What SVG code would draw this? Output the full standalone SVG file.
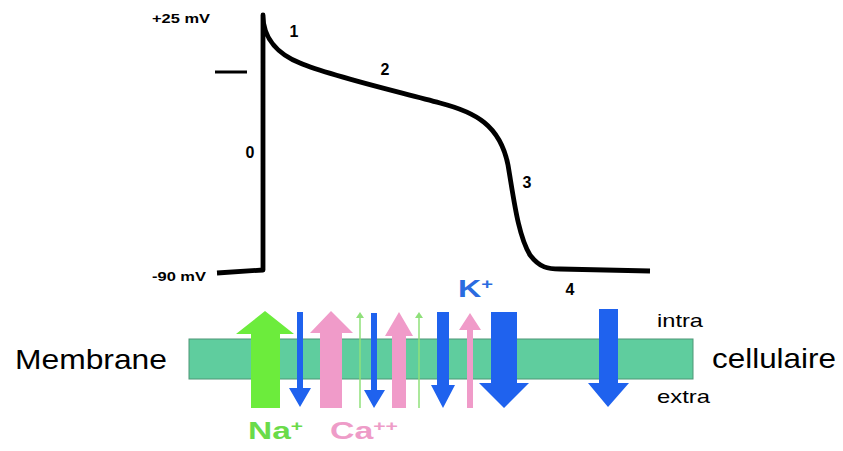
<svg xmlns="http://www.w3.org/2000/svg" width="843" height="451" viewBox="0 0 843 451">
  <style>
    .lbl { font-family: "Liberation Sans", Arial, sans-serif; }
    .b { font-weight: bold; }
    .trace { fill: none; stroke: #000; stroke-width: 4.8; stroke-linejoin: round; stroke-linecap: butt; }
    .na { fill: #6CEC3C; }
    .ca { fill: #F09BC9; }
    .k { fill: #1F62EE; }
    .thin { stroke: #8FE07A; stroke-width: 1.5; fill: none; }
  </style>
  <rect width="843" height="451" fill="#fff"/>

  <!-- action potential trace -->
  <g id="trace">
    <path class="trace" d="M 217,273 L 263,270 L 263,15 C 263,40 280,55 300,63 C 330,76 400,92 440,103 C 475,112 500,125 508,165 C 514,200 518,235 530,255 C 540,268 548,269 560,269 L 650,271"/>
    <line x1="215" y1="72" x2="247" y2="72" stroke="#000" stroke-width="3"/>
  </g>

  <g id="axis-labels" class="lbl b" font-size="13">
    <text x="152" y="23" textLength="58" lengthAdjust="spacingAndGlyphs">+25 mV</text>
    <text x="152" y="281" textLength="54" lengthAdjust="spacingAndGlyphs">-90 mV</text>
  </g>

  <g id="phases" class="lbl b" font-size="16" text-anchor="middle">
    <text x="250" y="158">0</text>
    <text x="294" y="37">1</text>
    <text x="385" y="75">2</text>
    <text x="527" y="188">3</text>
    <text x="570" y="295">4</text>
  </g>

  <!-- membrane -->
  <g id="membrane">
    <rect x="189" y="339" width="504" height="40" fill="#5FCD9E" stroke="#4E9676" stroke-width="1"/>
  </g>

  <!-- ion currents -->
  <g id="currents">
    <!-- Na+ inward -->
    <polygon class="na" points="251,408 251,334 236,334 265,311 294,334 280,334 280,408"/>
    <!-- K+ small outward -->
    <polygon class="k" points="297,312 303,312 303,388 311,388 300,407 289,388 297,388"/>
    <!-- Ca++ -->
    <polygon class="ca" points="320,408 320,333 310,333 331,311 353,333 342,333 342,408"/>
    <!-- faint Na+ -->
    <line class="thin" x1="360" y1="317" x2="360" y2="408"/>
    <polygon fill="#8FE07A" points="356,318 360,312 364,318"/>
    <!-- K+ -->
    <polygon class="k" points="371,313 377,313 377,390 385,390 374,408 364,390 371,390"/>
    <!-- Ca++ -->
    <polygon class="ca" points="392,408 392,336 385,336 399,312 413,336 406,336 406,408"/>
    <!-- faint Na+ -->
    <line class="thin" x1="419" y1="317" x2="419" y2="408"/>
    <polygon fill="#8FE07A" points="415,318 419,312 423,318"/>
    <!-- K+ -->
    <polygon class="k" points="437,312 449,312 449,385 455,385 443,408 431,385 437,385"/>
    <!-- Ca++ thin -->
    <polygon class="ca" points="467,408 467,330 459,330 470,313 481,330 473,330 473,408"/>
    <!-- K+ large -->
    <polygon class="k" points="491,312 517,312 517,383 529,383 504,408 479,383 491,383"/>
    <!-- K+ resting -->
    <polygon class="k" points="599,309 618,309 618,383 629,383 608,407 588,383 599,383"/>
  </g>

  <g id="ion-labels" class="lbl b" font-size="24">
    <text x="458" y="297" fill="#2A6BE0" textLength="35" lengthAdjust="spacingAndGlyphs">K<tspan font-size="15" dy="-8">+</tspan></text>
    <text x="248" y="439" fill="#6ADB4A" textLength="55" lengthAdjust="spacingAndGlyphs">Na<tspan font-size="15" dy="-8">+</tspan></text>
    <text x="330" y="439" fill="#EE9CC8" textLength="68" lengthAdjust="spacingAndGlyphs">Ca<tspan font-size="15" dy="-8">++</tspan></text>
  </g>

  <g id="membrane-labels" class="lbl">
    <text x="15" y="369" font-size="28" textLength="152" lengthAdjust="spacingAndGlyphs">Membrane</text>
    <text x="712" y="368" font-size="28" textLength="124" lengthAdjust="spacingAndGlyphs">cellulaire</text>
    <text x="657" y="327" font-size="19" textLength="46" lengthAdjust="spacingAndGlyphs">intra</text>
    <text x="657" y="403" font-size="19" textLength="53" lengthAdjust="spacingAndGlyphs">extra</text>
  </g>
</svg>
